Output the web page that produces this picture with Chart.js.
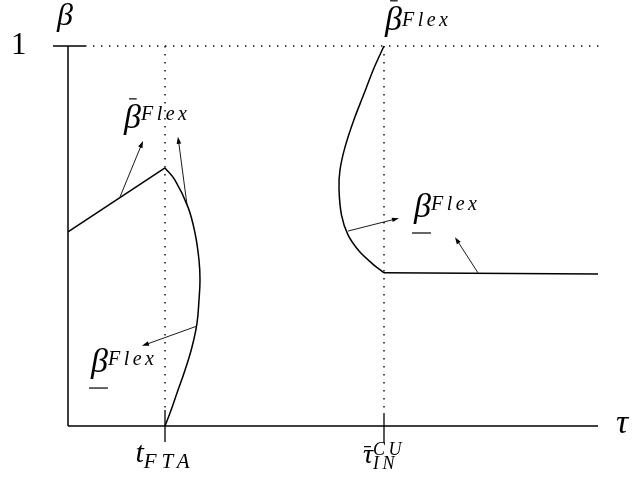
<!DOCTYPE html>
<html>
<head>
<meta charset="utf-8">
<title>beta Flex</title>
<script src="https://cdn.jsdelivr.net/npm/chart.js@4"></script>
<style>
  body { margin: 0; background: #fff; }
</style>
</head>
<body>
<canvas id="chart" width="634" height="484"></canvas>
<script>
// punkter på tau-axeln
const tFTA = 0.97;
const tauIN = 3.16;
const tauMax = 5.3;

// kurvorna (tau, beta)
const riseLine = [[0, 0.511], [tFTA, 0.679]];
const leftCurve = [
  [tFTA, 0.679], [1.07, 0.647], [1.20, 0.576], [1.27, 0.508], [1.31, 0.437],
  [1.32, 0.384], [1.31, 0.332], [1.29, 0.271], [1.24, 0.208], [1.17, 0.147],
  [1.09, 0.087], [1.02, 0.034], [tFTA, 0]
];
const rightCurve = [
  [tauIN, 1.0], [3.055, 0.939], [2.955, 0.871], [2.855, 0.803], [2.77, 0.734],
  [2.72, 0.674], [2.71, 0.624], [2.735, 0.555], [2.80, 0.503], [2.915, 0.459],
  [3.04, 0.428], [tauIN, 0.403]
];
const flatLine = [[tauIN, 0.403], [tauMax, 0.400]];

// pilar: från (tau, beta) till (tau, beta)
const arrows = [
  [0.52, 0.603, 0.75, 0.750],
  [1.19, 0.582, 1.10, 0.761],
  [1.29, 0.263, 0.74, 0.211],
  [2.80, 0.513, 3.31, 0.547],
  [4.10, 0.403, 3.87, 0.497]
];

const toXY = arr => arr.map(p => ({ x: p[0], y: p[1] }));

const MATH = '"Liberation Serif", serif';

// texter, ankrade i datakoordinater
const labels = [
  { x: -0.11, y: 1.055, parts: [{ t: 'β', size: 32 }] },
  { x: -0.57, y: 0.979, parts: [{ t: '1', size: 31, upright: true }] },
  { x: 5.48, y: -0.018, parts: [{ t: 'τ', size: 34 }] },
  { x: tFTA, y: -0.095, center: true, parts: [
    { t: 't', size: 30 }, { t: 'FTA', size: 21, dy: 6, ls: 5 }] },
  { x: tauIN, y: -0.097, center: true, parts: [
    { t: 'τ', size: 28, bar: 'tau' }, { t: 'CU', size: 18, dy: -8, ls: 3.5, stack: true },
    { t: 'IN', size: 18, dy: 6, ls: 3.5 }] },
  { x: 0.56, y: 0.784, parts: [{ t: 'β', size: 34, bar: 'beta' }, { t: 'Flex', size: 20, dy: -8, ls: 3.5 }] },
  { x: 0.23, y: 0.142, parts: [{ t: 'β', size: 34, under: true }, { t: 'Flex', size: 20, dy: -7, ls: 3.5 }] },
  { x: 3.17, y: 1.042, parts: [{ t: 'β', size: 34, bar: 'beta' }, { t: 'Flex', size: 20, dy: -4, ls: 3.5 }] },
  { x: 3.46, y: 0.55, parts: [{ t: 'β', size: 34, under: true }, { t: 'Flex', size: 20, dy: -7, ls: 3.5 }] }
];

function fontOf(p) {
  return (p.upright ? '' : 'italic ') + p.size + 'px ' + MATH;
}

function partsWidth(ctx, parts) {
  let cur = 0, stackW = 0;
  parts.forEach(p => {
    ctx.font = fontOf(p);
    ctx.letterSpacing = (p.ls || 0) + 'px';
    const w = ctx.measureText(p.t).width;
    if (p.stack) { stackW = w; } else { cur += Math.max(w, stackW); stackW = 0; }
  });
  return cur;
}

const annotate = {
  id: 'annotate',
  afterDatasetsDraw(chart) {
    const ctx = chart.ctx;
    const xs = chart.scales.x, ys = chart.scales.y;
    ctx.save();
    ctx.fillStyle = '#000';
    ctx.strokeStyle = '#000';

    // pilar
    arrows.forEach(a => {
      const x1 = xs.getPixelForValue(a[0]), y1 = ys.getPixelForValue(a[1]);
      const x2 = xs.getPixelForValue(a[2]), y2 = ys.getPixelForValue(a[3]);
      const ang = Math.atan2(y2 - y1, x2 - x1);
      ctx.lineWidth = 0.9;
      ctx.beginPath();
      ctx.moveTo(x1, y1);
      ctx.lineTo(x2 - 5 * Math.cos(ang), y2 - 5 * Math.sin(ang));
      ctx.stroke();
      ctx.beginPath();
      ctx.moveTo(x2, y2);
      ctx.lineTo(x2 - 7 * Math.cos(ang) + 2.3 * Math.sin(ang), y2 - 7 * Math.sin(ang) - 2.3 * Math.cos(ang));
      ctx.lineTo(x2 - 7 * Math.cos(ang) - 2.3 * Math.sin(ang), y2 - 7 * Math.sin(ang) + 2.3 * Math.cos(ang));
      ctx.closePath();
      ctx.fill();
    });

    // texter
    ctx.textBaseline = 'alphabetic';
    ctx.textAlign = 'left';
    labels.forEach(l => {
      let x = xs.getPixelForValue(l.x);
      const y = ys.getPixelForValue(l.y);
      if (l.center) x -= partsWidth(ctx, l.parts) / 2;
      let stackW = 0;
      l.parts.forEach(p => {
        ctx.font = fontOf(p);
        ctx.letterSpacing = (p.ls || 0) + 'px';
        const w = ctx.measureText(p.t).width;
        ctx.fillText(p.t, x, y + (p.dy || 0));
        ctx.lineWidth = 1.2;
        if (p.bar === 'beta') {
          ctx.beginPath();
          ctx.moveTo(x + 0.3 * w, y - p.size * 0.86);
          ctx.lineTo(x + 0.75 * w, y - p.size * 0.86);
          ctx.stroke();
        }
        if (p.bar === 'tau') {
          ctx.beginPath();
          ctx.moveTo(x + 0.1 * w, y - p.size * 0.58);
          ctx.lineTo(x + 0.8 * w, y - p.size * 0.58);
          ctx.stroke();
        }
        if (p.under) {
          ctx.beginPath();
          ctx.moveTo(x - 2, y + p.size * 0.47);
          ctx.lineTo(x + w, y + p.size * 0.47);
          ctx.stroke();
        }
        if (p.stack) { stackW = w; } else { x += Math.max(w, stackW); stackW = 0; }
      });
    });
    ctx.letterSpacing = '0px';
    ctx.restore();
  }
};

const solid = (data, width, tension) => ({
  data: toXY(data), showLine: true, pointRadius: 0, borderColor: '#000',
  borderWidth: width, tension: tension || 0, fill: false
});
const dotted = data => ({
  data: toXY(data), showLine: true, pointRadius: 0, borderColor: '#000',
  borderWidth: 1.4, borderDash: [1.4, 6.6], fill: false
});

new Chart(document.getElementById('chart'), {
  type: 'scatter',
  data: {
    datasets: [
      // axlar och streck
      solid([[0, 0], [0, 1]], 1.5),
      solid([[0, 0], [tauMax, 0]], 1.5),
      solid([[-0.15, 1], [0.17, 1]], 1.5),
      solid([[tFTA, 0.042], [tFTA, -0.042]], 1.3),
      solid([[tauIN, 0.034], [tauIN, -0.045]], 1.3),
      // prickade hjälplinjer
      dotted([[0.17, 1], [tauMax + 0.02, 1]]),
      dotted([[tFTA, 1], [tFTA, 0.042]]),
      dotted([[tauIN, 1], [tauIN, 0.034]]),
      // kurvor
      solid(riseLine, 1.5),
      solid(leftCurve, 1.5, 0.4),
      solid(rightCurve, 1.5, 0.3),
      solid(flatLine, 1.5)
    ]
  },
  options: {
    responsive: false,
    animation: false,
    layout: { padding: 0 },
    plugins: { legend: { display: false }, tooltip: { enabled: false } },
    scales: {
      x: { type: 'linear', display: false, min: -0.68, max: 5.66 },
      y: { type: 'linear', display: false, min: -0.1526, max: 1.1211 }
    }
  },
  plugins: [annotate]
});
</script>
</body>
</html>
